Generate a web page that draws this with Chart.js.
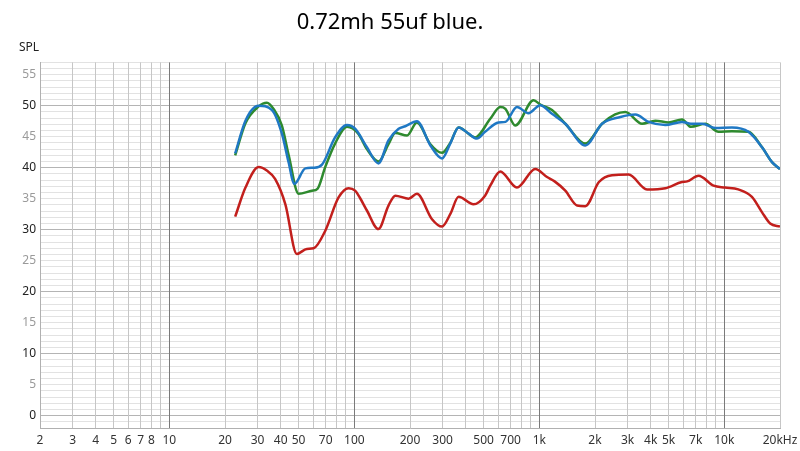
<!DOCTYPE html>
<html lang="en">
<head>
  <meta charset="UTF-8" />
  <title>0.72mh 55uf blue.</title>
  <script src="https://cdn.jsdelivr.net/npm/chart.js"></script>
  <style>
    html, body { margin: 0; padding: 0; background: #fff; }
    #wrap { width: 800px; height: 451px; }
  </style>
</head>
<body>
  <div id="wrap"><canvas id="spl"></canvas></div>

  <script>
    // frequency (Hz) / level (dB)
    const blueHz = [22.7, 25.8, 30.3, 35.9, 40.6, 44.2, 47.4, 54.4, 60.3, 66.9, 78.7, 91.3, 101, 117, 135, 153, 173.6, 188.6, 218, 257.8, 297.9, 330, 366, 415, 460, 509, 602, 656, 757, 874, 1012, 1171, 1382, 1773, 2183, 2742, 3305, 3899, 4797, 5904, 6600, 7600, 8930, 11000, 13500, 16000, 18100, 20000];
    const blueDb = [42.3, 47.6, 50.0, 49.3, 45.5, 40.8, 37.4, 39.9, 40.0, 40.5, 44.9, 46.9, 46.3, 43.3, 40.7, 44.4, 46.3, 46.7, 47.5, 43.6, 41.5, 43.9, 46.5, 45.5, 44.7, 45.8, 47.3, 47.4, 49.8, 48.8, 50.1, 48.7, 47.1, 43.6, 47.1, 48.2, 48.6, 47.4, 46.9, 47.4, 47.1, 47.1, 46.4, 46.5, 45.8, 43.3, 40.9, 39.8];

    const greenHz = [22.7, 25.8, 30.4, 33.7, 36.6, 40.6, 44.2, 50, 59, 63.2, 69.6, 78.7, 91.3, 105, 117, 135, 153, 166.6, 192.8, 218, 257.8, 298, 330, 366, 450, 543, 615, 656, 741, 931, 1012, 1171, 1382, 1773, 2183, 2570, 2916, 3591, 4236, 5000, 5904, 6600, 7900, 9300, 11000, 13500, 16000, 18100, 20000];
    const greenDb = [42.0, 47.2, 49.9, 50.5, 49.5, 46.8, 42.0, 35.8, 36.3, 36.6, 40.1, 43.9, 46.6, 45.5, 43.0, 41.0, 43.8, 45.6, 45.2, 47.3, 43.8, 42.4, 44.0, 46.5, 44.9, 47.9, 49.8, 49.5, 46.8, 50.9, 50.2, 49.3, 47.1, 43.9, 47.1, 48.6, 49.0, 47.1, 47.6, 47.3, 47.8, 46.6, 47.1, 45.8, 45.9, 45.8, 43.3, 40.9, 39.8];

    const redHz = [22.7, 25.8, 30.4, 33.8, 37.3, 42.4, 48.9, 55.4, 60.3, 69.6, 82.2, 93.2, 101, 107, 117, 135, 153, 166.6, 196.6, 218, 263, 298, 330, 366, 441, 509, 543, 615, 757, 951, 1101, 1210, 1382, 1600, 1773, 2100, 2470, 3040, 3820, 4800, 5900, 6300, 7260, 8750, 10100, 11900, 14100, 16000, 17700, 20000];
    const redDb = [32.1, 36.8, 40.1, 39.5, 38.2, 34.1, 26.1, 26.9, 27.0, 29.8, 35.2, 36.7, 36.3, 35.2, 33.1, 30.1, 33.9, 35.5, 35.0, 35.8, 31.7, 30.5, 32.5, 35.3, 34.1, 35.5, 37.1, 39.4, 36.8, 39.8, 38.5, 37.8, 36.3, 33.9, 33.8, 37.7, 38.8, 38.9, 36.5, 36.7, 37.7, 37.8, 38.7, 37.1, 36.8, 36.5, 35.3, 32.8, 31.0, 30.5];

    const xTickValues = [2, 3, 4, 5, 6, 7, 8, 9, 10, 20, 30, 40, 50, 60, 70, 80, 90, 100, 200, 300, 400, 500, 600, 700, 800, 900, 1000, 2000, 3000, 4000, 5000, 6000, 7000, 8000, 9000, 10000, 20000];
    const xTickLabels = ['2', '3', '4', '5', '6', '7', '8', '', '10', '20', '30', '40', '50', '', '70', '', '', '100', '200', '300', '', '500', '', '700', '', '', '1k', '2k', '3k', '4k', '5k', '', '7k', '', '', '10k', '20kHz'];
    const decades = [10, 100, 1000, 10000];

    const yMin = -2;
    const yMax = 57;

    const pts = (hz, db) => hz.map((f, i) => ({ x: f, y: db[i] }));
    const lineSet = (label, hz, db, color) => ({
      label,
      data: pts(hz, db),
      borderColor: color,
      borderWidth: 2.5,
      pointRadius: 0,
      cubicInterpolationMode: "monotone",
      fill: false
    });

    const fontFamily = "'Noto Sans', 'Open Sans', sans-serif";

    // small "SPL" caption above the y axis
    const splLabel = {
      id: "splLabel",
      afterDraw(chart) {
        const ctx = chart.ctx;
        ctx.save();
        ctx.font = "12px " + fontFamily;
        ctx.fillStyle = "#222";
        ctx.textAlign = "left";
        ctx.textBaseline = "middle";
        ctx.fillText("SPL", 19, 48);
        ctx.restore();
      }
    };

    new Chart(document.getElementById("spl"), {
      type: "line",
      data: {
        datasets: [
          lineSet("blue", blueHz, blueDb, "#1f78c4"),
          lineSet("green", greenHz, greenDb, "#2e8a2e"),
          lineSet("red", redHz, redDb, "#c21f1c")
        ]
      },
      options: {
        responsive: true,
        maintainAspectRatio: false,
        animation: false,
        layout: { padding: { left: 0, right: 20, top: 0, bottom: 0 } },
        plugins: {
          legend: { display: false },
          tooltip: { enabled: false },
          title: {
            display: true,
            text: "0.72mh 55uf blue.",
            color: "#000",
            font: { size: 22, family: fontFamily, weight: "normal" },
            padding: { top: 10, bottom: 26 }
          }
        },
        scales: {
          x: {
            type: "logarithmic",
            min: 2,
            max: 20000,
            afterBuildTicks: (scale) => { scale.ticks = xTickValues.map(v => ({ value: v })); },
            afterFit: (scale) => {
              scale.height = 23;
              scale.paddingLeft = 0;
              scale.paddingRight = 0;
            },
            ticks: {
              autoSkip: false,
              maxRotation: 0,
              padding: 5,
              color: "#333",
              font: { size: 12, family: fontFamily },
              callback: (value, index) => xTickLabels[index]
            },
            grid: {
              drawTicks: false,
              color: (c) => c.tick && decades.includes(c.tick.value) ? "#7a7a7a" : "#c6c6c6"
            },
            border: { color: "#b0b0b0" }
          },
          y: {
            min: yMin,
            max: yMax,
            afterBuildTicks: (scale) => {
              const t = [];
              for (let v = yMin; v <= yMax; v++) t.push({ value: v });
              scale.ticks = t;
            },
            afterFit: (scale) => { scale.width = 40; },
            ticks: {
              autoSkip: false,
              padding: 4,
              font: { size: 12, family: fontFamily },
              color: (c) => c.tick && c.tick.value % 10 === 0 ? "#222" : "#9a9a9a",
              callback: (value) => value % 5 === 0 && value >= 0 && value <= 55 ? String(value) : ""
            },
            grid: {
              z: -2,
              drawTicks: false,
              color: (c) => c.tick && c.tick.value % 10 === 0 ? "#b4b4b4" : "#e2e2e2"
            },
            border: { color: "#b0b0b0" }
          }
        }
      },
      plugins: [splLabel]
    });
  </script>
</body>
</html>
